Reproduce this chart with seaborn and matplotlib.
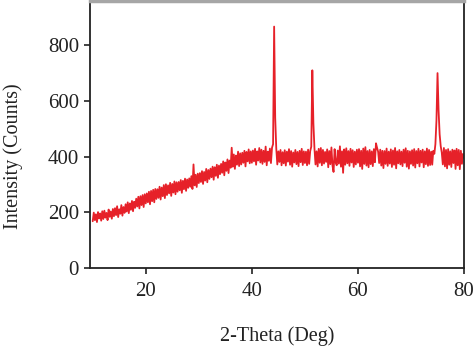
import numpy as np
import pandas as pd
import matplotlib
matplotlib.use("Agg")
import matplotlib.pyplot as plt
import seaborn as sns

# 2-theta grid: 10.0 to 80.0 deg, 0.2 deg steps
two_theta_start = 10.0
two_theta_step = 0.2

intensity = [
    168, 199, 172, 193, 165, 201, 178, 196, 170, 204,   # 10
    176, 206, 181, 198, 172, 210, 184, 203, 177, 212,   # 12
    186, 215, 190, 222, 183, 211, 195, 226, 188, 219,   # 14
    198, 229, 203, 236, 197, 232, 209, 241, 204, 238,   # 16
    216, 249, 221, 256, 214, 258, 226, 262, 219, 265,   # 18
    232, 268, 236, 274, 229, 277, 240, 281, 236, 284,   # 20
    248, 283, 252, 292, 246, 289, 258, 298, 251, 301,   # 22
    262, 297, 268, 306, 259, 302, 271, 311, 265, 308,   # 24
    274, 309, 279, 316, 270, 313, 283, 321, 277, 318,   # 26
    288, 322, 292, 330, 284, 372, 297, 335, 291, 339,   # 28
    305, 341, 309, 348, 302, 345, 314, 356, 308, 352,   # 30
    320, 357, 326, 364, 317, 362, 331, 371, 324, 368,   # 32
    337, 374, 342, 383, 333, 379, 349, 390, 341, 386,   # 34
    360, 432, 364, 408, 356, 404, 371, 418, 366, 412,   # 36
    372, 414, 378, 421, 365, 417, 383, 426, 376, 419,   # 38
    378, 422, 383, 428, 371, 419, 386, 431, 379, 425,   # 40
    374, 421, 381, 436, 369, 418, 385, 429, 377, 432,   # 42
    445, 867, 540, 430, 372, 419, 381, 424, 369, 416,   # 44
    376, 423, 368, 418, 382, 427, 371, 420, 364, 415,   # 46
    379, 424, 373, 417, 366, 421, 380, 428, 370, 419,   # 48
    377, 418, 369, 425, 374, 420, 436, 710, 520, 430,   # 50
    372, 419, 365, 428, 378, 431, 369, 424, 375, 417,   # 52
    381, 426, 362, 420, 373, 433, 368, 345, 427, 379,   # 54
    369, 422, 375, 437, 364, 419, 342, 426, 371, 430,   # 56
    376, 420, 367, 428, 379, 423, 363, 418, 372, 425,   # 58
    378, 427, 365, 421, 356, 429, 374, 434, 368, 420,   # 60
    362, 424, 373, 419, 366, 427, 380, 448, 432, 418,   # 62
    377, 425, 368, 421, 359, 420, 374, 429, 367, 418,   # 64
    375, 426, 363, 422, 371, 431, 358, 419, 376, 424,   # 66
    372, 418, 366, 425, 378, 430, 364, 421, 357, 419,   # 68
    374, 423, 368, 427, 361, 420, 376, 428, 365, 421,   # 70
    379, 425, 362, 419, 373, 429, 367, 424, 370, 418,   # 72
    371, 421, 410, 445, 530, 700, 565, 480, 438, 415,   # 74
    372, 431, 365, 424, 358, 427, 371, 419, 363, 425,   # 76
    377, 422, 356, 428, 369, 424, 355, 421, 374, 410,   # 78
    396,                                                # 80
]

x_ticks = [20, 40, 60, 80]
y_ticks = [0, 200, 400, 600, 800]

two_theta = two_theta_start + two_theta_step * np.arange(len(intensity))
df = pd.DataFrame({"two_theta": two_theta, "intensity": intensity})

sns.set_theme(style="ticks")
plt.rcParams["font.family"] = ["Liberation Serif", "DejaVu Serif"]

fig = plt.figure(figsize=(4.74, 3.49), dpi=100)
ax = fig.add_axes([0.190, 0.232, 0.789, 0.766])

sns.lineplot(data=df, x="two_theta", y="intensity", ax=ax,
             color="#e62129", linewidth=1.3, estimator=None, sort=False)

ax.set_xlim(9.5, 80)
ax.set_ylim(0, 960)
ax.set_xticks(x_ticks)
ax.set_yticks(y_ticks)
ax.tick_params(axis="both", labelsize=15, length=4, width=1.2,
               color="#222222", labelcolor="#222222", direction="out", pad=4)
ax.tick_params(axis="x", pad=6)
ax.set_xlabel("2-Theta (Deg)", fontsize=14.5, color="#222222", labelpad=18)
ax.set_ylabel("Intensity (Counts)", fontsize=14.5, color="#222222")
ax.yaxis.set_label_coords(-0.18, 0.42)

for side in ["left", "bottom", "right"]:
    ax.spines[side].set_visible(True)
    ax.spines[side].set_color("#222222")
    ax.spines[side].set_linewidth(1.3)
ax.spines["top"].set_visible(True)
ax.spines["top"].set_color("#a6a6a6")
ax.spines["top"].set_linewidth(2.5)

fig.savefig("out.png", dpi=100)
